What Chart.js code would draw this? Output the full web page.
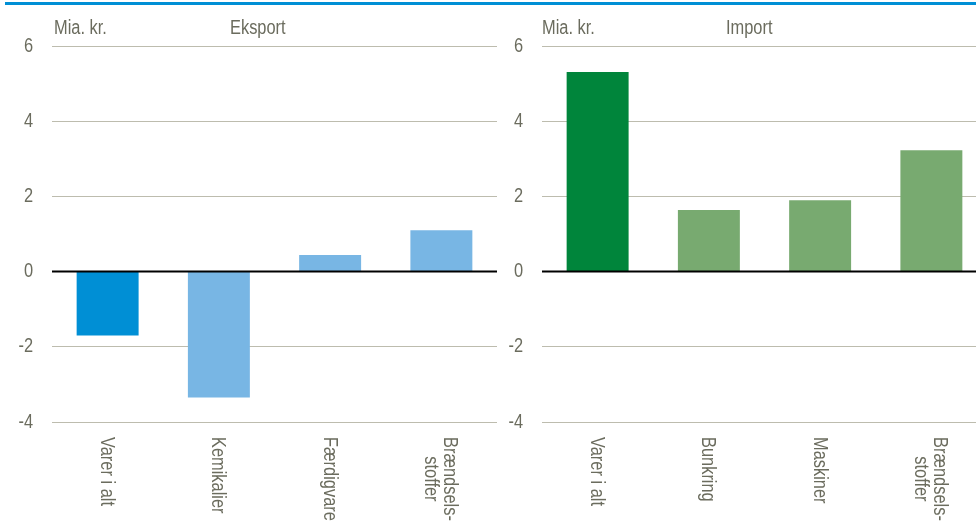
<!DOCTYPE html>
<html>
<head>
<meta charset="utf-8">
<script src="https://cdn.jsdelivr.net/npm/chart.js@4/dist/chart.umd.min.js"></script>
<style>
  html, body { margin: 0; padding: 0; background: #fff; }
  body { width: 976px; height: 527px; position: relative; overflow: hidden;
         font-family: 'Liberation Sans', Arial, sans-serif; }
  .topline { position: absolute; left: 5px; right: 0; top: 2px; height: 3px; background: #008FD5; }
  .box { position: absolute; top: 0; height: 527px; }
  .lbl { position: absolute; font-size: 20px; color: #6B6C5E; line-height: 20px; white-space: nowrap;
         transform: scaleX(0.82); transform-origin: 0 0; }
</style>
</head>
<body>
<div class="topline"></div>
<div class="box" style="left:0;width:497px"><canvas id="eksport"></canvas></div>
<div class="box" style="left:497px;width:490px"><canvas id="import"></canvas></div>
<span class="lbl" style="left:54px;top:17px">Mia. kr.</span>
<span class="lbl" style="left:230px;top:17px">Eksport</span>
<span class="lbl" style="left:542px;top:17px">Mia. kr.</span>
<span class="lbl" style="left:726px;top:17px">Import</span>
<script>
(() => {
    if (!window.Chart) return;

    // === DATA ===
    const eksportLabels = ['Varer i alt', 'Kemikalier', 'Færdigvare', ['Brændsels-', 'stoffer']];
    const eksportValues = [-1.7, -3.35, 0.44, 1.1];
    const importLabels = ['Varer i alt', 'Bunkring', 'Maskiner', ['Brændsels-', 'stoffer']];
    const importValues = [5.31, 1.64, 1.9, 3.23];
    const yMin = -4, yMax = 6, yStep = 2;

    const eksportColors = ['#008FD5', '#78B6E4', '#78B6E4', '#78B6E4'];
    const importColors = ['#00853B', '#78AA70', '#78AA70', '#78AA70'];

    const textColor = '#6B6C5E';
    const font = "20px 'Liberation Sans', Arial, sans-serif";
    const narrow = 0.82; // smal skrift som i originalen

    // nullinje oven på søjlerne, y-tal og lodrette kategorietiketter (læses oppefra og ned)
    const extras = {
        id: 'extras',
        afterDatasetsDraw(chart) {
            const { ctx, chartArea, scales } = chart;
            const y0 = scales.y.getPixelForValue(0);
            ctx.save();
            ctx.strokeStyle = '#000';
            ctx.lineWidth = 2;
            ctx.beginPath();
            ctx.moveTo(chartArea.left, y0);
            ctx.lineTo(chartArea.right, y0);
            ctx.stroke();

            ctx.fillStyle = textColor;
            ctx.font = font;
            ctx.textBaseline = 'middle';

            // y-akse tal
            ctx.textAlign = 'right';
            scales.y.ticks.forEach(t => {
                const y = scales.y.getPixelForValue(t.value);
                ctx.save();
                ctx.translate(chartArea.left - 19, y);
                ctx.scale(narrow, 1);
                ctx.fillText(String(t.value), 0, 0);
                ctx.restore();
            });

            // kategorier
            ctx.textAlign = 'center';
            const top = chartArea.bottom + 15;
            chart.data.labels.forEach((lab, i) => {
                const lines = Array.isArray(lab) ? lab : [lab];
                const w = Math.max(...lines.map(l => ctx.measureText(l).width)) * narrow;
                const x = scales.x.getPixelForValue(i);
                ctx.save();
                ctx.translate(x, top + w / 2);
                ctx.rotate(Math.PI / 2);
                ctx.scale(narrow, 1);
                const lh = 19;
                lines.forEach((l, k) => {
                    ctx.fillText(l, 0, (k - (lines.length - 1) / 2) * lh + 1);
                });
                ctx.restore();
            });
            ctx.restore();
        }
    };

    const makeChart = (id, labels, values, colors, yWidth) => {
        const el = document.getElementById(id);
        return new Chart(el.getContext('2d'), {
            type: 'bar',
            data: {
                labels,
                datasets: [{
                    data: values,
                    backgroundColor: colors,
                    borderWidth: 0,
                    barPercentage: 0.557,
                    categoryPercentage: 1
                }]
            },
            options: {
                responsive: true,
                maintainAspectRatio: false,
                animation: false,
                layout: { padding: { top: 46, right: 0, left: 0, bottom: 0 } },
                plugins: { legend: { display: false }, tooltip: { enabled: false } },
                scales: {
                    x: {
                        grid: { display: false },
                        border: { display: false },
                        ticks: { display: false },
                        afterFit: (s) => { s.height = 105; }
                    },
                    y: {
                        min: yMin,
                        max: yMax,
                        border: { display: false },
                        grid: {
                            drawTicks: false,
                            color: (c) => (c.tick && c.tick.value === 0 ? 'rgba(0,0,0,0)' : '#BDBCAE'),
                            lineWidth: 1
                        },
                        ticks: { stepSize: yStep, display: false },
                        afterFit: (s) => { s.width = yWidth; }
                    }
                }
            },
            plugins: [extras]
        });
    };

    makeChart('eksport', eksportLabels, eksportValues, eksportColors, 52);
    makeChart('import', importLabels, importValues, importColors, 45);
})();
</script>
</body>
</html>
